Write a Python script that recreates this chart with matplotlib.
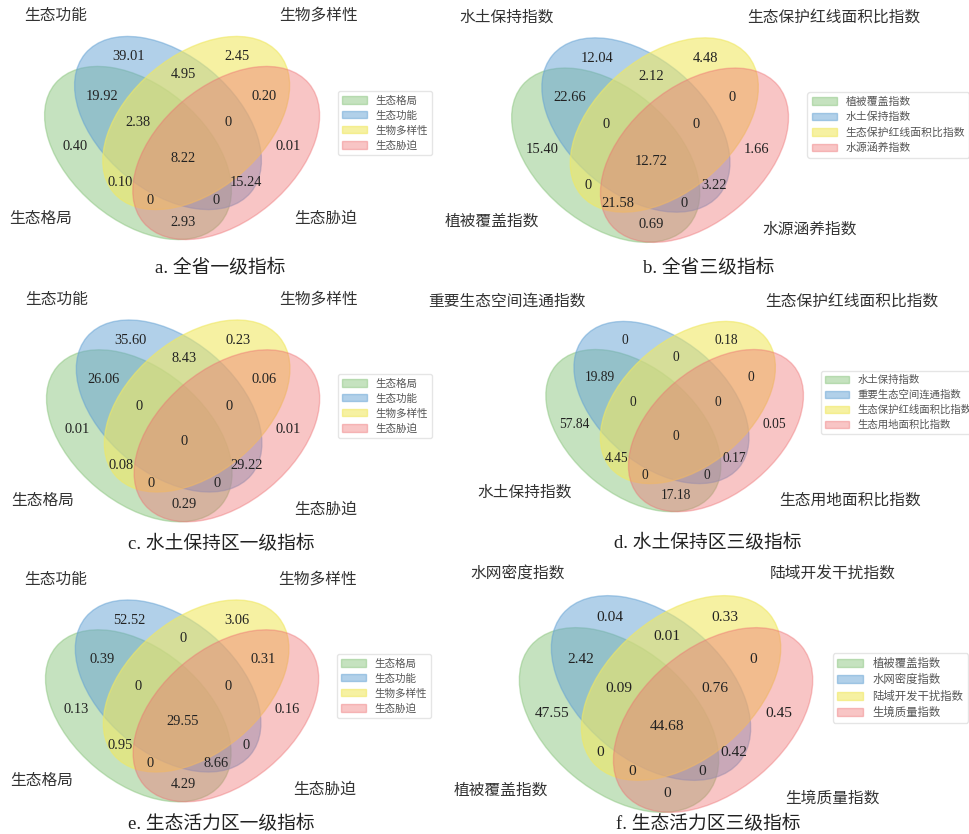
import numpy as np
import matplotlib.pyplot as plt
from matplotlib.patches import Ellipse, Patch

plt.rcParams['font.family'] = ['Liberation Serif', 'Noto Sans CJK SC']

# region keys: set membership bits (A B C D)
regions = ['1000', '0100', '0010', '0001', '1100', '0110', '0011', '1110',
           '0111', '1111', '1010', '0101', '1011', '1101', '1001']

names_lv1 = ['生态格局', '生态功能', '生物多样性', '生态胁迫']
names_b = ['植被覆盖指数', '水土保持指数', '生态保护红线面积比指数', '水源涵养指数']
names_d = ['水土保持指数', '重要生态空间连通指数', '生态保护红线面积比指数', '生态用地面积比指数']
names_f = ['植被覆盖指数', '水网密度指数', '陆域开发干扰指数', '生境质量指数']

vals_a = [0.40, 39.01, 2.45, 0.01, 19.92, 4.95, 0.20, 2.38, 0, 8.22, 0.10, 15.24, 0, 0, 2.93]
vals_b = [15.40, 12.04, 4.48, 1.66, 22.66, 2.12, 0, 0, 0, 12.72, 0, 3.22, 21.58, 0, 0.69]
vals_c = [0.01, 35.60, 0.23, 0.01, 26.06, 8.43, 0.06, 0, 0, 0, 0.08, 29.22, 0, 0, 0.29]
vals_d = [57.84, 0, 0.18, 0.05, 19.89, 0, 0, 0, 0, 0, 4.45, 0.17, 0, 0, 17.18]
vals_e = [0.13, 52.52, 3.06, 0.16, 0.39, 0, 0.31, 0, 0, 29.55, 0.95, 0, 0, 8.66, 4.29]
vals_f = [47.55, 0.04, 0.33, 0.45, 2.42, 0.01, 0, 0.09, 0.76, 44.68, 0, 0.42, 0, 0, 0]

titles = ['a. 全省一级指标', 'b. 全省三级指标', 'c. 水土保持区一级指标',
          'd. 水土保持区三级指标', 'e. 生态活力区一级指标', 'f. 生态活力区三级指标']

colors = [(140/255, 198/255, 128/255, 0.5), (100/255, 162/255, 212/255, 0.5),
          (240/255, 232/255, 100/255, 0.6), (238/255, 110/255, 112/255, 0.4)]

ellipses = [((0.350, 0.400), 140), ((0.450, 0.500), 140),
            ((0.544, 0.500), 40), ((0.644, 0.400), 40)]

text_pos = {'0001': (0.85, 0.42), '0010': (0.68, 0.72), '0011': (0.77, 0.59),
            '0100': (0.32, 0.72), '0101': (0.71, 0.30), '0110': (0.50, 0.66),
            '0111': (0.65, 0.50), '1000': (0.14, 0.42), '1001': (0.50, 0.17),
            '1010': (0.29, 0.30), '1011': (0.39, 0.24), '1100': (0.23, 0.59),
            '1101': (0.61, 0.24), '1110': (0.35, 0.50), '1111': (0.50, 0.38)}

W, H = 970, 834
fig = plt.figure(figsize=(W / 100, H / 100), dpi=100)

# panel placement in pixels: left of unit box, y of its origin from top, box size
panels = [
    (names_lv1, vals_a, (33, 273, 300), (220, 267), 7.6, 'center'),
    (names_b, vals_b, (500, 276, 302), (709, 267), 7.8, 'top'),
    (names_lv1, vals_c, (35, 555, 298), (221, 543), 7.6, 'top'),
    (names_d, vals_d, (535, 543, 281), (708, 542), 7.5, 'top'),
    (names_lv1, vals_e, (34, 835, 298), (221, 823), 7.6, 'top'),
    (names_f, vals_f, (507, 848, 320), (708, 823), 8.2, 'top'),
]


def fmt(v):
    return '0' if v == 0 else f'{v:.2f}'


for (names, vals, (x0, y0, s), (tx, ty), legfs, va4), title in zip(panels, titles):
    ax = fig.add_axes([x0 / W, (H - y0) / H, s / W, s / H])
    ax.set_xlim(0, 1)
    ax.set_ylim(0, 1)
    ax.axis('off')
    for (xy, ang), c in zip(ellipses, colors):
        ax.add_patch(Ellipse(xy, 0.72, 0.45, angle=ang, color=c, clip_on=False))
    for key, v in zip(regions, vals):
        x, y = text_pos[key]
        ax.text(x, y, fmt(v), ha='center', va='center', color='#222222',
                fontsize=10.4 * s / 300)
    nc = '#333333'
    ax.text(0.13, 0.18, names[0], ha='right', va='center', fontsize=11.3, color=nc)
    ax.text(0.18, 0.83, names[1], ha='right', va='bottom', fontsize=11.3, color=nc)
    ax.text(0.82, 0.83, names[2], ha='left', va='bottom', fontsize=11.3, color=nc)
    ax.text(0.87, 0.18, names[3], ha='left', va=va4, fontsize=11.3, color=nc)
    handles = [Patch(color=c) for c in colors]
    leg = ax.legend(handles, names, loc='center left', bbox_to_anchor=(1.0, 0.5),
                    fontsize=legfs, fancybox=True, handlelength=2.3, labelspacing=0.45)
    leg.get_frame().set_alpha(0.5)
    leg.get_frame().set_edgecolor('#cccccc')
    for t in leg.get_texts():
        t.set_color('#555555')
    fig.text(tx / W, 1 - ty / H, title, ha='center', va='center', fontsize=13.5,
             color='#222222')

fig.savefig('out.png', dpi=100)
